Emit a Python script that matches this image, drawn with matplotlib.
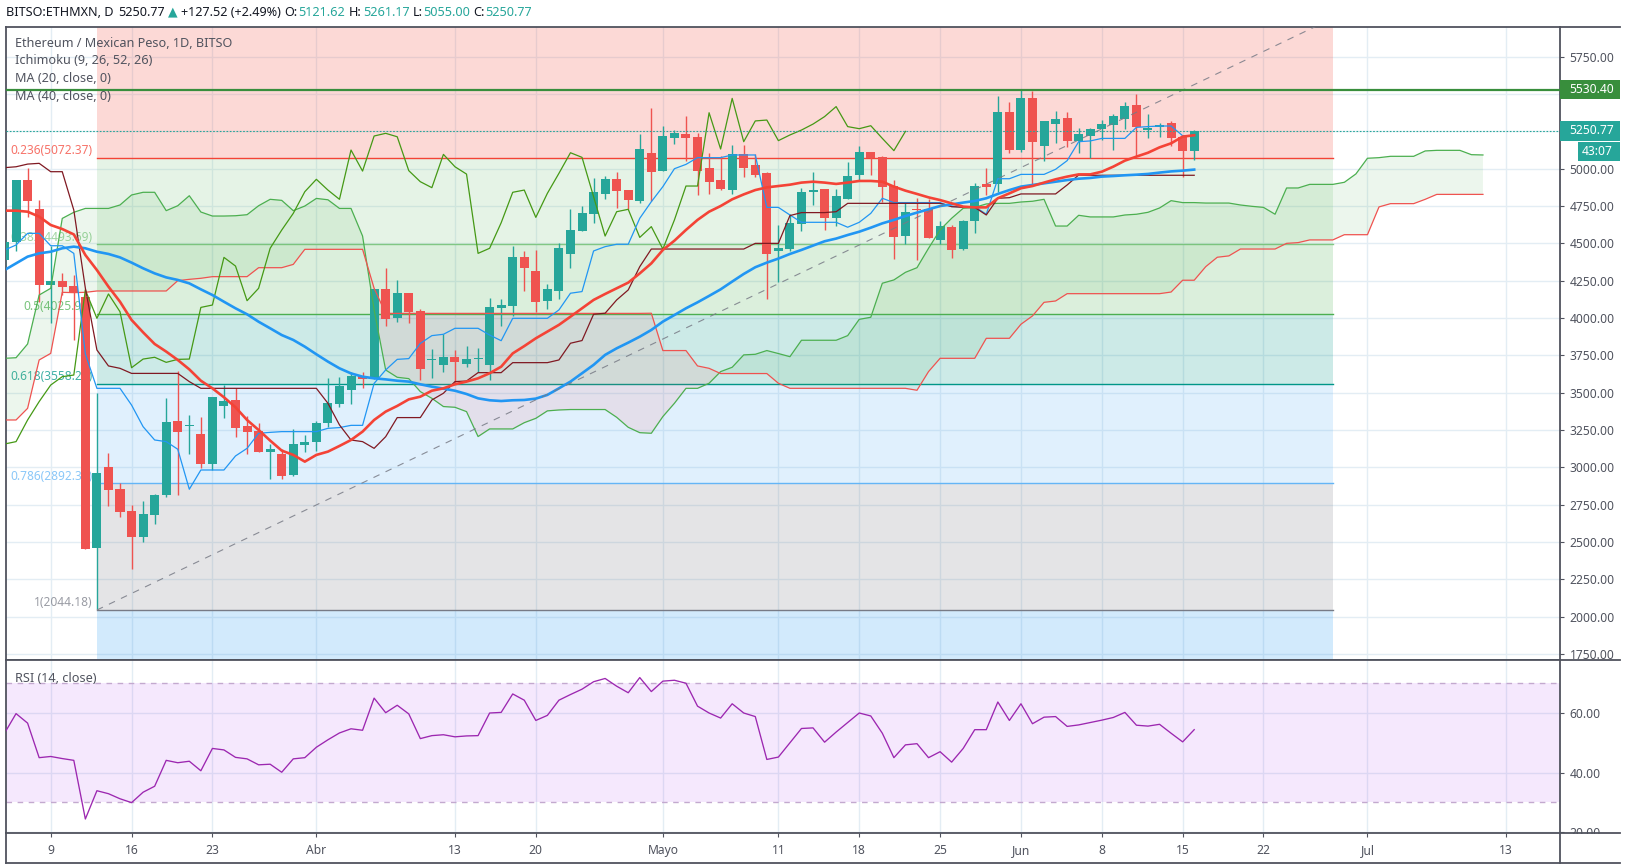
import numpy as np
import pandas as pd
import matplotlib
matplotlib.use('Agg')
from matplotlib import pyplot as plt
from matplotlib.lines import Line2D
from matplotlib.patches import Rectangle

plt.rcParams['font.family'] = ['Noto Sans', 'DejaVu Sans']

# daily candles, first one is 5 March 2020
first_day = '2020-03-05'
opens = [4388,4511,4924,4730,4221,4248,4214,4143,2460,3002,
	2855,2708,2534,2681,2815,3310,3276,3223,3022,3411,
	3451,3277,3243,3103,3089,2949,3149,3170,3297,3424,
	3518,3612,3598,4194,4000,4165,4047,3718,3685,3739,
	3692,3723,3685,4067,4080,4408,4315,4117,4183,4429,
	4583,4697,4831,4931,4857,4784,5105,4985,5206,5232,
	5212,5005,4924,4857,5099,5025,4971,4449,4462,4630,
	4844,4864,4670,4797,4958,5112,5076,4884,4549,4728,
	4730,4523,4610,4462,4650,4898,4898,5380,5125,5473,
	5152,5299,5340,5186,5219,5266,5293,5333,5427,5259,
	5279,5306,5212,5121.62]
highs = [4530,4924,5002,4788,4480,4299,4288,4192,3495,3094,
	2895,2748,2775,2822,3464,3645,3350,3337,3471,3551,
	3529,3344,3297,3156,3123,3257,3217,3310,3598,3605,
	3639,3639,4194,4335,4254,4165,4060,3792,3893,3786,
	3812,3799,4134,4127,4482,4449,4455,4228,4503,4730,
	4750,4938,4951,4978,4857,5232,5407,5286,5259,5353,
	5239,5105,5085,5159,5159,5099,4978,4623,4697,4871,
	4978,4864,4864,5045,5152,5112,5085,4924,4770,4804,
	4797,4650,4623,4657,4904,5005,5487,5447,5527,5520,
	5320,5386,5380,5273,5273,5326,5366,5447,5500,5366,
	5306,5320,5219,5261.17]
lows = [4330,4451,4674,4109,3964,4154,3852,2453,2049,2741,
	2670,2322,2502,2621,2804,2815,3089,2996,2982,3330,
	3203,3089,3103,2922,2922,2942,3103,3109,3270,3404,
	3424,3531,3591,3946,3973,3967,3585,3598,3638,3562,
	3672,3638,3585,3946,4013,4181,4040,4061,4128,4335,
	4583,4636,4797,4737,4730,4770,4784,4985,5165,5052,
	4824,4831,4857,4831,4945,4945,4128,4241,4449,4583,
	4757,4590,4616,4797,4924,4958,4777,4395,4496,4389,
	4536,4496,4402,4456,4570,4824,4844,5105,5112,4891,
	5052,5172,5145,5103,5074,5192,5125,5266,5085,5206,
	5212,5152,4947,5055]
closes = [4511,4924,4786,4221,4248,4210,4172,2453,2962,2848,
	2701,2534,2688,2815,3304,3237,3280,3022,3471,3444,
	3263,3237,3103,3123,2942,3156,3170,3297,3431,3545,
	3612,3591,4194,3993,4165,4040,3656,3722,3739,3705,
	3725,3725,4076,4087,4408,4335,4109,4195,4469,4590,
	4703,4844,4931,4851,4790,5132,4978,5219,5239,5206,
	4985,4911,4864,5099,5005,4958,4429,4469,4637,4844,
	4857,4670,4817,4951,5112,5072,4878,4543,4710,4724,
	4536,4616,4456,4650,4884,4878,5380,5125,5473,5179,
	5320,5333,5186,5230,5266,5299,5353,5420,5279,5273,
	5293,5206,5119,5250.77]

ma20 = [4719,4719,4712,4679,4623,4596,4560,4422,4321,4210,
	4109,3987,3904,3826,3775,3719,3656,3580,3529,3469,
	3402,3317,3250,3179,3112,3083,3038,3083,3105,3143,
	3183,3239,3317,3373,3411,3455,3473,3513,3529,3556,
	3574,3596,3630,3674,3763,3812,3864,3909,3954,4009,
	4065,4121,4161,4199,4237,4299,4366,4456,4518,4590,
	4657,4712,4750,4795,4828,4857,4875,4884,4893,4907,
	4913,4907,4898,4907,4918,4918,4913,4880,4853,4831,
	4808,4790,4768,4746,4741,4741,4802,4835,4869,4884,
	4907,4929,4947,4962,4962,4980,5014,5054,5081,5107,
	5143,5170,5215,5224]
ma40 = [4321,4366,4411,4433,4444,4467,4478,4467,4444,4429,
	4406,4371,4333,4299,4272,4255,4232,4192,4154,4109,
	4065,4025,3975,3931,3886,3853,3808,3757,3708,3663,
	3629,3607,3596,3589,3580,3574,3556,3540,3527,3513,
	3491,3462,3449,3444,3449,3451,3460,3485,3529,3574,
	3630,3686,3753,3797,3835,3875,3920,3976,4020,4065,
	4105,4148,4192,4244,4295,4340,4371,4398,4429,4456,
	4485,4514,4532,4556,4578,4605,4634,4657,4683,4706,
	4728,4750,4761,4773,4784,4802,4831,4857,4880,4891,
	4902,4913,4924,4933,4938,4947,4951,4956,4960,4965,
	4974,4982,4987,4994]

# ichimoku lines
conversion = [4455,4489,4567,4567,4484,4484,4433,3760,3529,3529,
	3529,3417,3272,3183,3172,3121,2853,2982,2982,2982,
	3076,3127,3228,3234,3239,3239,3239,3239,3261,3266,
	3281,3281,3562,3652,3723,3728,3830,3882,3891,3931,
	3931,3931,3886,3848,3998,3998,3998,3998,4054,4166,
	4177,4449,4478,4494,4494,4668,4779,4880,5000,5029,
	5074,5074,5074,5092,5092,5092,4741,4741,4690,4641,
	4641,4641,4641,4608,4641,4701,4802,4773,4773,4773,
	4773,4773,4746,4746,4746,4695,4933,4933,4962,4962,
	4962,4996,5054,5181,5186,5203,5203,5203,5277,5282,
	5286,5286,5221,5221]
base = [5007,5013,5031,5036,4980,4980,4723,4200,3786,3679,
	3663,3629,3629,3629,3629,3629,3574,3529,3529,3529,
	3529,3529,3529,3529,3529,3529,3529,3529,3429,3284,
	3183,3172,3127,3205,3333,3333,3333,3451,3496,3574,
	3578,3634,3634,3634,3701,3701,3701,3701,3719,3831,
	3849,4025,4032,4121,4188,4344,4462,4462,4462,4462,
	4462,4462,4462,4462,4462,4500,4500,4500,4686,4706,
	4706,4706,4712,4768,4768,4768,4768,4768,4768,4768,
	4768,4768,4746,4741,4741,4690,4802,4806,4831,4831,
	4831,4831,4891,4958,4956,4956,4956,4956,4956,4956,
	4956,4956,4956,4956]
lagging = [3156,3172,3317,3440,3551,3607,3618,4188,3998,4161,
	4042,3667,3725,3737,3703,3723,3725,4071,4087,4406,
	4348,4116,4199,4467,4589,4701,4846,4929,4857,4795,
	5125,4984,5219,5237,5214,4987,4913,4873,5096,5013,
	4964,4433,4467,4638,4842,4857,4674,4835,4969,5107,
	5076,4813,4549,4712,4728,4540,4612,4462,4657,4884,
	4884,5375,5132,5471,5181,5320,5326,5188,5226,5259,
	5299,5349,5416,5282,5268,5288,5203,5121,5250]
lead_a = [3730,3734,3826,4154,4199,4667,4708,4734,4734,4734,
	4757,4824,4842,4842,4719,4752,4819,4710,4683,4683,
	4685,4692,4752,4795,4788,4719,4750,4801,4792,4734,
	4734,4549,4054,3652,3603,3594,3507,3462,3407,3402,
	3373,3206,3257,3257,3257,3299,3328,3378,3384,3387,
	3387,3387,3387,3335,3268,3232,3228,3340,3429,3529,
	3529,3563,3641,3670,3753,3757,3782,3762,3741,3851,
	3851,3851,3851,3882,3991,4005,4233,4255,4306,4337,
	4467,4590,4668,4735,4741,4764,4768,4768,4777,4782,
	4795,4616,4616,4688,4677,4677,4677,4690,4695,4708,
	4737,4786,4773,4773,4770,4770,4770,4757,4748,4741,
	4695,4871,4871,4895,4895,4895,4909,4965,5070,5074,
	5083,5083,5083,5119,5123,5123,5123,5094,5092]
lead_b = [3317,3317,3395,3719,3763,4172,4170,4172,4181,4181,
	4181,4181,4181,4181,4181,4250,4259,4266,4277,4277,
	4277,4277,4337,4337,4337,4359,4460,4460,4460,4460,
	4460,4460,4199,4031,4031,4031,4031,4031,4031,4031,
	4031,4031,4031,4031,4031,4031,4031,4031,4031,4031,
	4031,4031,4031,4031,4031,4031,4032,3782,3782,3782,
	3679,3663,3628,3628,3628,3628,3628,3563,3529,3529,
	3529,3529,3529,3529,3529,3529,3529,3529,3529,3516,
	3641,3730,3730,3730,3730,3864,3864,3864,3958,4014,
	4105,4114,4163,4163,4163,4163,4163,4163,4163,4163,
	4163,4174,4253,4253,4344,4407,4416,4462,4462,4462,
	4462,4500,4505,4523,4523,4523,4558,4558,4558,4744,
	4766,4766,4766,4795,4828,4828,4828,4828,4828]

rsi = [53.2,59.8,56.6,45,45.4,44.7,44.1,24.4,33.9,32.9,
	31.2,29.9,33.4,35.4,44.1,43.3,43.8,40.6,48.1,47.6,
	45.1,44.6,42.6,42.8,40.1,44.6,45,48.5,51,53.3,
	54.7,54.2,65,60.1,62.6,59.7,51.4,52.4,52.7,52,
	52.3,52.4,60,60.2,66.4,64.3,57.5,59.2,64.3,66.2,
	68,70.5,71.6,69,66.8,71.9,67.2,70.7,71,70,
	62.3,60,58.3,63.1,60,58.8,44.4,45.2,50,54.8,
	55,50.2,53.6,56.8,60,59,53.2,45,49.3,49.7,
	45,47,43.5,48.1,54.4,54.4,63.7,57.5,63.1,56.4,
	58.6,58.8,55.5,56,56.8,57.6,58.5,60.2,55.9,55.6,
	56.2,53.2,50.3,54.4]

# fibonacci retracement, from the 13 March low to 28 June
fib_start = '2020-03-13'
fib_end = '2020-06-28'
fib_ratios = ['0', '0.236', '0.382', '0.5', '0.618', '0.786', '1', '1.272']
fib_prices = [6007.78, 5072.37, 4493.69, 4025.98, 3558.24, 2892.37, 2044.18, 966.0]
fib_colors = ['#f44336', '#f44336', '#81c784', '#4caf50', '#009688', '#64b5f6', '#787b86', '#2196f3']

price_ticks = [1750,2000,2250,2500,2750,3000,3250,3500,3750,4000,4250,4500,4750,5000,5250,5500,5750]
rsi_ticks = [20, 40, 60]
date_ticks = ['2020-03-09','2020-03-16','2020-03-23','2020-04-01','2020-04-13','2020-04-20','2020-05-01',
	'2020-05-11','2020-05-18','2020-05-25','2020-06-01','2020-06-08','2020-06-15','2020-06-22','2020-07-01','2020-07-13']
date_labels = ['9','16','23','Abr','13','20','Mayo','11','18','25','Jun','8','15','22','Jul','13']

last_price = 5250.77
alert_price = 5530.40

WIDTH = 1627
HEIGHT = 868
TEXT = '#50535e'
FRAME = '#50535e'
GRID = '#e3edf4'
UP = '#26a69a'
DOWN = '#ef5350'

def axRect(left, top, right, bottom):
	return [left/WIDTH, 1-bottom/HEIGHT, (right-left)/WIDTH, (bottom-top)/HEIGHT]

def figText(fig, x, y, s, **kw):
	kw.setdefault('color', TEXT)
	kw.setdefault('fontsize', 9.1)
	kw.setdefault('va', 'center')
	fig.text(x/WIDTH, 1-y/HEIGHT, s, **kw)

def figLine(fig, x0, y0, x1, y1):
	fig.add_artist(Line2D([x0/WIDTH, x1/WIDTH], [1-y0/HEIGHT, 1-y1/HEIGHT], color=FRAME, lw=1.3, zorder=6))

def figBox(fig, x0, y0, x1, y1, color):
	fig.add_artist(Rectangle((x0/WIDTH, 1-y1/HEIGHT), (x1-x0)/WIDTH, (y1-y0)/HEIGHT, color=color, lw=0,
		transform=fig.transFigure, zorder=5))

def days(values):
	return pd.date_range(first_day, periods=len(values), freq='D')

def styleAxis(ax):
	ax.yaxis.tick_right()
	ax.set_axisbelow(True)
	ax.grid(True, color=GRID, lw=1.0)
	ax.set_xlim(pd.Timestamp('2020-03-05 03:07'), pd.Timestamp('2020-07-17 16:05'))
	ax.set_xticks(pd.to_datetime(date_ticks))
	ax.tick_params(axis='y', length=3, width=0.8, color=FRAME, labelcolor=TEXT, labelsize=8.7, pad=4)
	for side in ax.spines:
		ax.spines[side].set_color(FRAME)
		ax.spines[side].set_linewidth(1.3)

def plotFib(ax):
	x = pd.to_datetime([fib_start, fib_end])
	for i in range(len(fib_prices)-1):
		ax.fill_between(x, fib_prices[i+1], fib_prices[i], color=fib_colors[i+1], alpha=0.2, lw=0, zorder=1)
	for i in range(1, len(fib_prices)-1):
		ax.plot(x, [fib_prices[i], fib_prices[i]], color=fib_colors[i], lw=1.0, zorder=1.5)
		ax.annotate('%s(%.2f)' % (fib_ratios[i], fib_prices[i]), (x[0], fib_prices[i]), xytext=(-3.2, 5.2),
			textcoords='offset points', ha='right', va='center', fontsize=8.6, color=fib_colors[i], alpha=0.75, zorder=1.6)
	ax.plot(x, [fib_prices[6], fib_prices[0]], color='#787b86', lw=0.8, dashes=(6, 6), alpha=0.85, zorder=4.5)

def plotCandles(ax):
	x = days(opens)
	o = np.array(opens)
	c = np.array(closes)
	colors = [UP if a >= b else DOWN for a, b in zip(c, o)]
	ax.vlines(x, lows, highs, colors=colors, lw=1.0, zorder=3)
	ax.bar(x, np.maximum(np.abs(c-o), 8), bottom=np.minimum(o, c), width=0.78, color=colors, lw=0, zorder=3.2)

def plotIchimoku(ax):
	x = days(lead_a)
	a = np.array(lead_a)
	b = np.array(lead_b)
	ax.fill_between(x, a, b, where=a>=b, interpolate=True, color='#4caf50', alpha=0.1, lw=0, zorder=2)
	ax.fill_between(x, a, b, where=a<b, interpolate=True, color='#ff5252', alpha=0.1, lw=0, zorder=2)
	ax.plot(x, lead_a, color='#4caf50', lw=0.9, zorder=4)
	ax.plot(x, lead_b, color='#ef5350', lw=0.9, zorder=4)
	ax.plot(days(lagging), lagging, color='#459915', lw=0.9, zorder=4)
	ax.plot(days(conversion), conversion, color='#2196f3', lw=0.9, zorder=4)
	ax.plot(days(base), base, color='#801922', lw=0.9, zorder=4)

if __name__ == "__main__":
	fig = plt.figure(figsize=(WIDTH/100, HEIGHT/100), dpi=100, facecolor='white')
	ax = fig.add_axes(axRect(6, 26.5, 1560, 659.5))
	axRsi = fig.add_axes(axRect(6, 660, 1560, 833))

	styleAxis(ax)
	ax.set_ylim(1712.7, 5952.5)
	ax.set_yticks(price_ticks)
	# 5250 and 5500 sit under the price tags, the chart shows no label for them
	ax.set_yticklabels(['' if p in (5250, 5500) else '%.2f' % p for p in price_ticks])
	ax.tick_params(axis='x', length=0, labelbottom=False)

	plotFib(ax)
	plotCandles(ax)
	plotIchimoku(ax)
	ax.plot(days(ma20), ma20, color='#f44336', lw=1.9, zorder=4.2)
	ax.plot(days(ma40), ma40, color='#2196f3', lw=1.9, zorder=4.1)
	ax.axhline(alert_price, color='#388e3c', lw=1.6, zorder=5)
	ax.axhline(last_price, color=UP, lw=0.8, dashes=(1.5, 1.5), zorder=5)

	styleAxis(axRsi)
	axRsi.set_ylim(19.7, 77.8)
	axRsi.set_yticks(rsi_ticks)
	axRsi.set_yticklabels(['%.2f' % v for v in rsi_ticks])
	axRsi.set_xticklabels(date_labels)
	axRsi.tick_params(axis='x', length=3, width=0.8, color=FRAME, labelcolor=TEXT, labelsize=8.7, pad=5)
	for label in axRsi.get_xticklabels():
		if label.get_text() in ('Abr', 'Mayo'):
			label.set_fontweight('bold')
	axRsi.axhspan(30, 70, color='#9a00f0', alpha=0.09, lw=0, zorder=1)
	for level in (30, 70):
		axRsi.axhline(level, color='#c3a9cf', lw=1.0, dashes=(4, 4), zorder=1.5)
	axRsi.plot(days(rsi), rsi, color='#9c27b0', lw=0.95, zorder=3)

	# frame bits outside the two panels
	figLine(fig, 6, 833, 6, 863)
	figLine(fig, 6, 863, 1620, 863)
	figLine(fig, 1560, 833, 1560, 863)
	figLine(fig, 1560, 26.5, 1620, 26.5)
	figLine(fig, 1560, 660, 1620, 660)
	figLine(fig, 1560, 833, 1620, 833)
	figBox(fig, 1561, 834, 1619, 862, 'white')

	# price tags on the axis
	figBox(fig, 1560, 80, 1620, 99, '#388e3c')
	figBox(fig, 1560, 121, 1620, 140.7, UP)
	figBox(fig, 1578, 142, 1620, 161, UP)
	figText(fig, 1569, 89.5, '%.2f' % alert_price, color='white', fontsize=8.7, fontweight='bold', zorder=7)
	figText(fig, 1569, 131, '%.2f' % last_price, color='white', fontsize=8.7, fontweight='bold', zorder=7)
	figText(fig, 1582, 151.5, '43:07', color='white', fontsize=8.7, fontweight='bold', zorder=7)

	# header line
	figText(fig, 6, 12, 'BITSO:ETHMXN, D', color='#131722', fontweight='bold')
	figText(fig, 118.6, 12, '5250.77', color='#131722')
	figText(fig, 167.5, 11.5, '\u25b2', color=UP, fontsize=9)
	figText(fig, 181, 12, '+127.52 (+2.49%)', color='#131722')
	for x, s in [(284.5, 'O:'), (348.6, 'H:'), (412.8, 'L:'), (473.4, 'C:')]:
		figText(fig, x, 12, s, color='#131722', fontweight='bold')
	for x, s in [(298.6, '5121.62'), (362.8, '5261.17'), (423.4, '5055.00'), (485.5, '5250.77')]:
		figText(fig, x, 12, s, color=UP)

	# indicator legends
	figText(fig, 15, 43.5, 'Ethereum / Mexican Peso, 1D, BITSO', fontweight='bold', zorder=7)
	figText(fig, 15, 60.5, 'Ichimoku (9, 26, 52, 26)', zorder=7)
	figText(fig, 15, 78.5, 'MA (20, close, 0)', zorder=7)
	figText(fig, 15, 96, 'MA (40, close, 0)', zorder=7)
	figText(fig, 15, 678, 'RSI (14, close)', zorder=7)

	fig.savefig('out.png', dpi=100)
	plt.close('all')
